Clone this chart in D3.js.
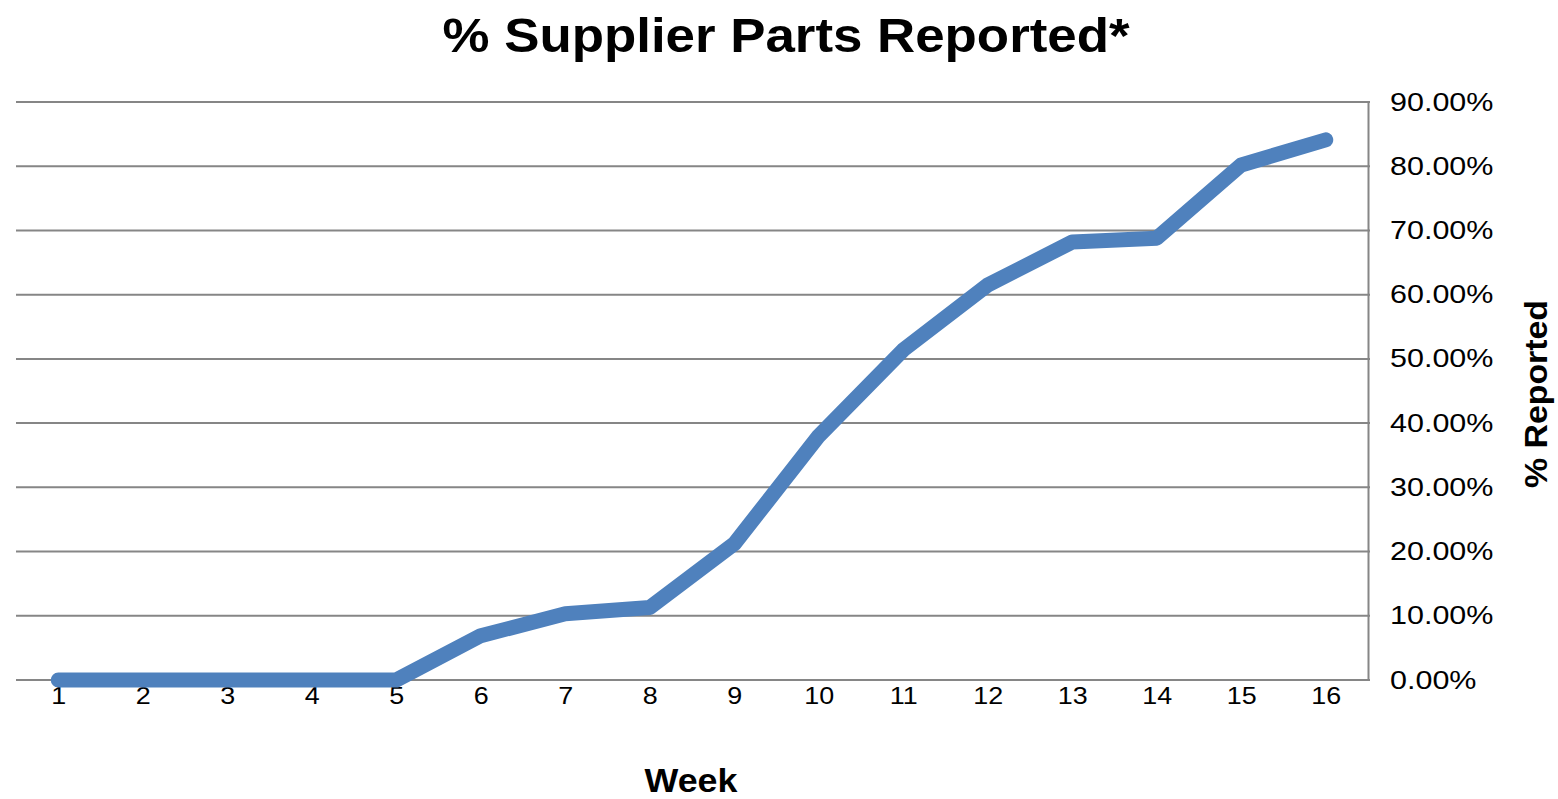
<!DOCTYPE html>
<html><head><meta charset="utf-8">
<script src="https://cdn.jsdelivr.net/npm/d3@7"></script>
<style>body{margin:0;background:#fff}svg{display:block}text{font-family:"Liberation Sans",Arial,sans-serif;fill:#000}</style>
</head><body><svg id="c" width="1558" height="799"></svg>
<script>
const weeks = ["1","2","3","4","5","6","7","8","9","10","11","12","13","14","15","16"];
const reported = [0,0,0,0,0,0.069,0.103,0.113,0.212,0.38,0.514,0.615,0.682,0.688,0.802,0.841];
const yTicks = [0,0.1,0.2,0.3,0.4,0.5,0.6,0.7,0.8,0.9];
const title = "% Supplier Parts Reported*";
const xTitle = "Week";
const yTitle = "% Reported";

const svg = d3.select("#c");
const L = 16, R = 1368, T = 102, B = 680;
const x = d3.scalePoint().domain(weeks).range([L, R]).padding(0.5);
const y = d3.scaleLinear().domain([0, 0.9]).range([B, T]);

function stretch(sel, f) {
  sel.each(function () {
    const w = this.getComputedTextLength();
    d3.select(this).attr("textLength", w * f).attr("lengthAdjust", "spacingAndGlyphs");
  });
}

// gridlines
svg.append("g").selectAll("line").data(yTicks).join("line")
  .attr("x1", L).attr("x2", R + 2)
  .attr("y1", d => y(d)).attr("y2", d => y(d))
  .attr("stroke", "#868686").attr("stroke-width", 2);

// right axis
const ya = svg.append("g").attr("transform", `translate(${R},0)`)
  .call(d3.axisRight(y).tickValues(yTicks).tickFormat(d3.format(".2%")).tickSize(0).tickPadding(22));
ya.select(".domain").attr("stroke", "#868686").attr("stroke-width", 2);
ya.selectAll("text").style("font-size", "25px").attr("fill", "#000");
stretch(ya.selectAll("text"), 1.22);

// bottom axis labels
const xa = svg.append("g").attr("transform", `translate(0,${B})`)
  .call(d3.axisBottom(x).tickSize(0).tickPadding(7));
xa.select(".domain").remove();
xa.selectAll("text").style("font-size", "24px").attr("fill", "#000");
stretch(xa.selectAll("text"), 1.12);

// line
svg.append("path").datum(reported)
  .attr("d", d3.line().x((d, i) => x(weeks[i])).y(d => y(d)))
  .attr("fill", "none").attr("stroke", "#4F81BD").attr("stroke-width", 15)
  .attr("stroke-linejoin", "round").attr("stroke-linecap", "round");

svg.append("text").attr("x", 786).attr("y", 52).attr("text-anchor", "middle")
  .style("font-size", "48px").style("font-weight", "bold")
  .attr("textLength", 687).attr("lengthAdjust", "spacingAndGlyphs").text(title);
svg.append("text").attr("x", 691).attr("y", 792).attr("text-anchor", "middle")
  .style("font-size", "33px").style("font-weight", "bold")
  .attr("textLength", 93).attr("lengthAdjust", "spacingAndGlyphs").text(xTitle);
svg.append("text").attr("transform", "translate(1547,394) rotate(-90)").attr("text-anchor", "middle")
  .style("font-size", "31px").style("font-weight", "bold")
  .attr("textLength", 188).attr("lengthAdjust", "spacingAndGlyphs").text(yTitle);
</script></body></html>
